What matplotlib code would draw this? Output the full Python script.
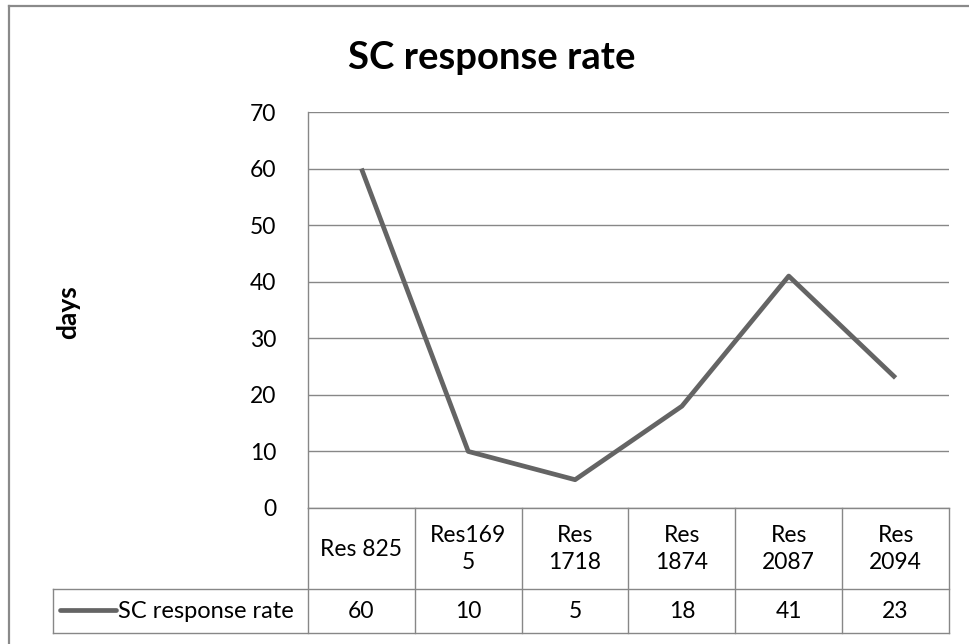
import matplotlib.pyplot as plt
from matplotlib.lines import Line2D
from matplotlib.transforms import blended_transform_factory

plt.rcParams['font.family'] = ['Lato', 'DejaVu Sans']

# chart data
categories = ['Res 825', 'Res169\n5', 'Res\n1718', 'Res\n1874', 'Res\n2087', 'Res\n2094']
series_name = 'SC response rate'
values = [60, 10, 5, 18, 41, 23]
y_ticks = [0, 10, 20, 30, 40, 50, 60, 70]

W, H = 969, 644
LINE_COLOR = '#646464'
GRID_COLOR = '#878787'
TEXT_COLOR = '#000000'


def fx(px):
    return px / W


def fy(py):
    return 1 - py / H


fig = plt.figure(figsize=(W / 100, H / 100), dpi=100)
fig.patch.set_facecolor('white')

# outer chart border (right/bottom fall outside the image)
fig.add_artist(Line2D([fx(9), fx(9)], [fy(6), fy(650)], color='#8a8a8a', lw=1.6))
fig.add_artist(Line2D([fx(9), fx(975)], [fy(6), fy(6)], color='#8a8a8a', lw=1.6))

ax = fig.add_axes([fx(308), fy(508), fx(949) - fx(308), fy(112) - fy(508)])
x = list(range(len(categories)))
ax.plot(x, values, color=LINE_COLOR, lw=3.4, solid_capstyle='butt', zorder=3)

ax.set_xlim(-0.5, len(categories) - 0.5)
ax.set_ylim(0, 70)
ax.set_yticks(y_ticks)
ax.set_xticks([])
ax.tick_params(axis='y', length=0, pad=23, labelsize=16.5, labelcolor=TEXT_COLOR)
ax.yaxis.grid(True, color=GRID_COLOR, lw=1)
ax.set_axisbelow(True)
for side in ['top', 'right']:
    ax.spines[side].set_visible(False)
for side in ['left', 'bottom']:
    ax.spines[side].set_color(GRID_COLOR)
    ax.spines[side].set_linewidth(1)

ax.set_ylabel('days', fontsize=19, fontweight='bold', color=TEXT_COLOR, va='center')
ax.yaxis.set_label_coords((68 - 308) / (949 - 308), (508 - 312) / (508 - 112))

fig.text(fx(492), fy(58), 'SC response rate', ha='center', va='center',
         fontsize=27.5, fontweight='bold', color=TEXT_COLOR)

# data table below the plot
tr = blended_transform_factory(ax.transData, fig.transFigure)
tab_kw = dict(color=GRID_COLOR, lw=1, clip_on=False)
for b in [i - 0.5 for i in range(len(categories) + 1)]:
    fig.add_artist(Line2D([b, b], [fy(508), fy(633)], transform=tr, **tab_kw))
for yy in [589, 633]:
    fig.add_artist(Line2D([fx(53), fx(949)], [fy(yy), fy(yy)], **tab_kw))
fig.add_artist(Line2D([fx(53), fx(53)], [fy(589), fy(633)], **tab_kw))

for i, (cat, val) in enumerate(zip(categories, values)):
    fig.text(i, fy(549), cat, transform=tr, ha='center', va='center',
             fontsize=16.5, color=TEXT_COLOR, linespacing=1.4)
    fig.text(i, fy(611), str(val), transform=tr, ha='center', va='center',
             fontsize=16.5, color=TEXT_COLOR)

fig.add_artist(Line2D([fx(60), fx(116)], [fy(610), fy(610)], color=LINE_COLOR,
                      lw=3.4, solid_capstyle='round'))
fig.text(fx(118), fy(611), series_name, ha='left', va='center',
         fontsize=17, color=TEXT_COLOR)

fig.savefig('out.png', dpi=100)
